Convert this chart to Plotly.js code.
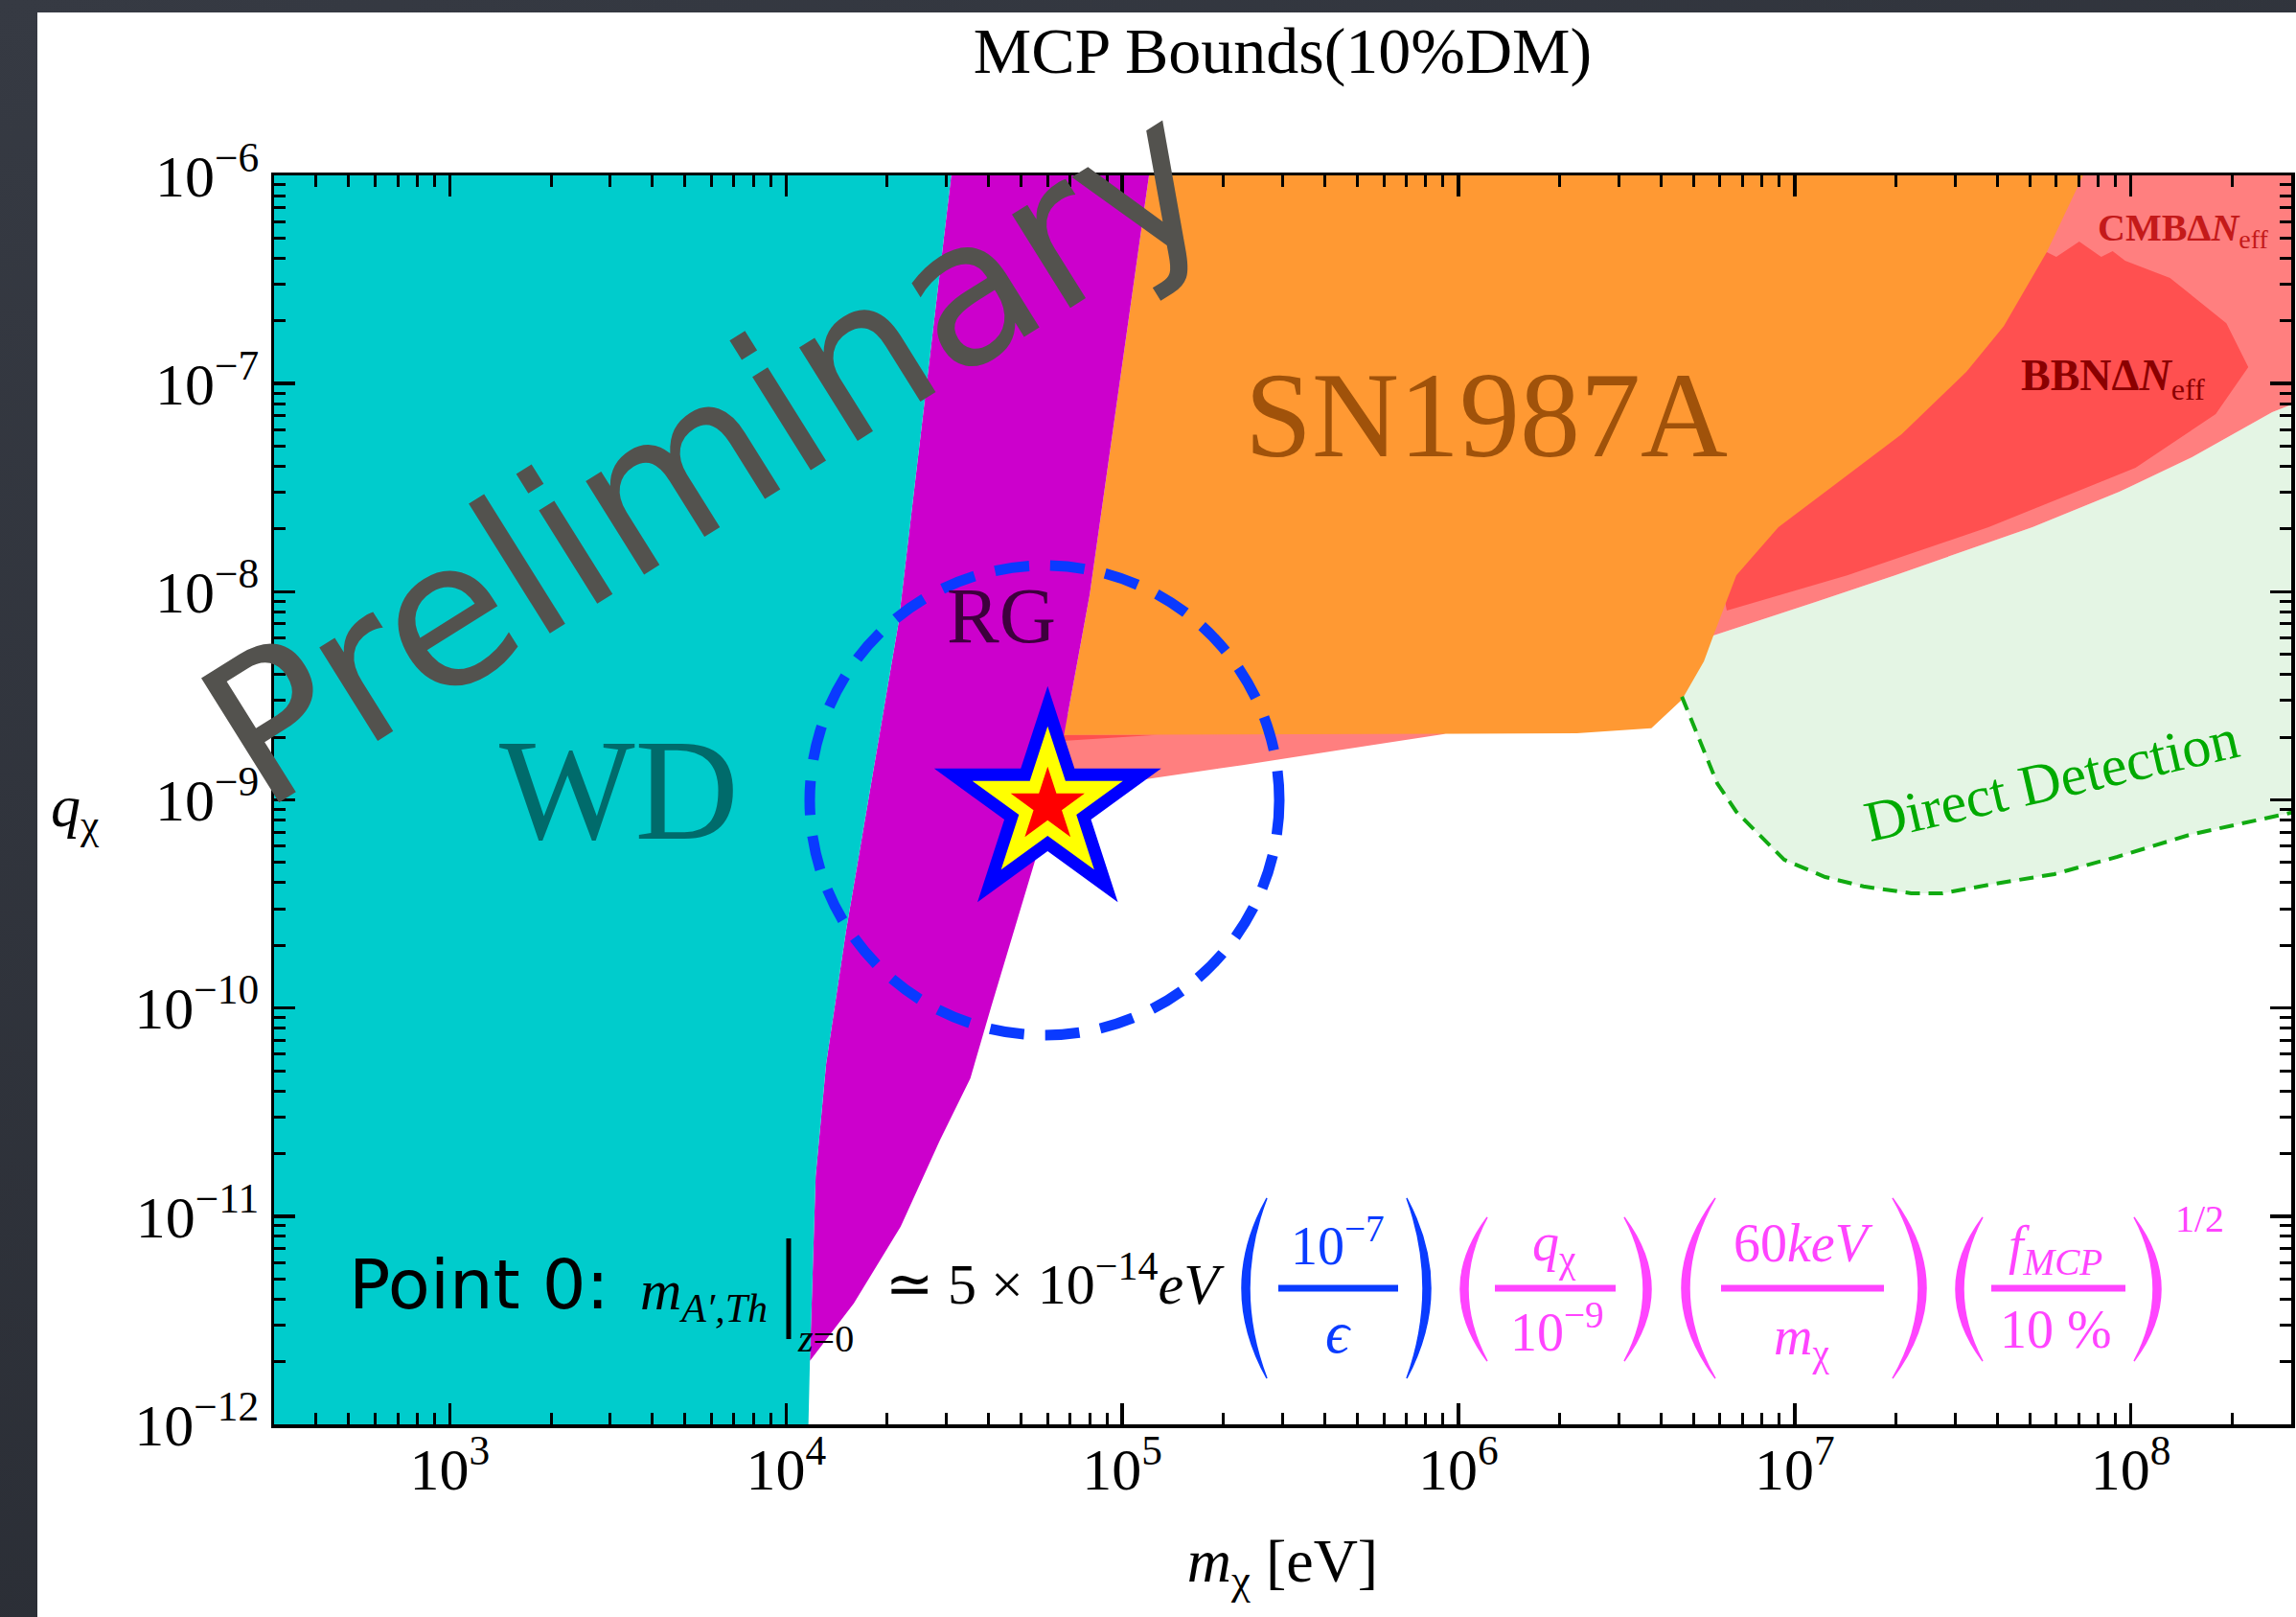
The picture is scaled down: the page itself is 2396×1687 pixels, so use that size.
<!DOCTYPE html>
<html><head><meta charset="utf-8">
<script src="https://cdn.plot.ly/plotly-3.0.1.min.js"></script>
<style>
html,body{margin:0;padding:0;width:2396px;height:1687px;overflow:hidden;background:#2e3139;}
#frame{position:absolute;left:0;top:0;width:2396px;height:1687px;background:linear-gradient(160deg,#363a43,#262930);}
#chart{position:absolute;left:39px;top:13px;width:2357px;height:1674px;background:#fff;}
</style></head><body><div id="frame"></div><div id="chart"></div>
<script>
// ---------- data (mass in eV, charge q_chi) ----------
const wdMass   = [250, 3.10e4, 2.16e4, 1.51e4, 1.316e4, 1.225e4, 1.178e4, 1.162e4, 250];
const wdCharge = [1.2e-6, 1e-6, 7.08e-9, 2.38e-10, 5.40e-11, 1.56e-11, 2.08e-12, 0.8e-12, 0.8e-12];

const rgMass   = [1.178e4, 1.591e4, 2.192e4, 2.867e4, 3.534e4, 4.081e4, 5.513e4, 6.709e4, 8.005e4, 1.201e5, 3.10e4, 2.16e4, 1.51e4, 1.316e4, 1.225e4, 1.178e4];
const rgCharge = [2.02e-12, 3.81e-12, 8.90e-12, 2.31e-11, 4.60e-11, 1.02e-10, 5.16e-10, 2.05e-9, 9.73e-9, 1e-6, 1e-6, 7.08e-9, 2.38e-10, 5.40e-11, 1.56e-11, 2.08e-12];

const snMass   = [1.201e5, 8.005e4, 6.709e4, 4.385e5, 2.251e6, 3.749e6, 4.621e6, 5.373e6, 5.735e6, 6.709e6, 8.950e6, 2.081e7, 3.246e7, 4.190e7, 5.623e7, 7.211e7];
const snCharge = [1e-6, 9.73e-9, 2.05e-9, 2.07e-9, 2.09e-9, 2.21e-9, 3.03e-9, 4.63e-9, 6.17e-9, 1.20e-8, 2.04e-8, 5.71e-8, 1.14e-7, 1.89e-7, 4.28e-7, 1e-6];

const cmbMass   = [5.41e4, 5.41e4, 1.186e5, 2.28e5, 4.385e5, 9.007e5, 5.735e6, 1.155e7, 1.988e7, 5.098e7, 9.245e7, 1.520e8, 2.634e8, 3.3e8, 3.3e8, 7.211e7, 3.121e6];
const cmbCharge = [2.05e-9, 1.23e-9, 1.26e-9, 1.47e-9, 1.73e-9, 2.07e-9, 6.17e-9, 8.93e-9, 1.20e-8, 2.04e-8, 3.02e-8, 4.43e-8, 7.29e-8, 8.4e-8, 1.2e-6, 1.2e-6, 1.0e-7];

const bbnMass   = [5.623e7, 6.003e7, 7.025e7, 8.165e7, 8.831e7, 9.616e7, 1.308e8, 1.924e8, 2.236e8, 1.789e8, 1.033e8, 3.773e7, 1.433e7, 6.285e6, 5.267e6, 4.272e7];
const bbnCharge = [4.28e-7, 4.06e-7, 4.81e-7, 4.06e-7, 4.33e-7, 3.89e-7, 3.22e-7, 1.95e-7, 1.20e-7, 7.14e-8, 3.94e-8, 2.04e-8, 1.20e-8, 8.12e-9, 3.47e-8, 2.89e-7];
const bbnSliverMass   = [5.41e4, 1.266e5, 5.41e4];
const bbnSliverCharge = [2.05e-9, 2.05e-9, 1.88e-9];

const ddBoundMass   = [4.621e6, 5.888e6, 6.709e6, 9.307e6, 1.233e7, 1.602e7, 2.222e7, 2.756e7, 3.823e7, 5.925e7, 9.125e7, 1.5e8, 3.3e8];
const ddBoundCharge = [3.13e-9, 1.20e-9, 8.77e-10, 5.16e-10, 4.26e-10, 3.84e-10, 3.56e-10, 3.56e-10, 3.92e-10, 4.40e-10, 5.33e-10, 6.80e-10, 8.97e-10];
const ddTopMass   = [3.3e8, 2.634e8, 1.520e8, 9.245e7, 5.098e7, 1.988e7, 1.155e7, 5.735e6, 4.055e6];
const ddTopCharge = [8.4e-8, 7.29e-8, 4.43e-8, 3.02e-8, 2.04e-8, 1.20e-8, 8.93e-9, 6.17e-9, 4.17e-9];

const benchMass = [6e4];
const benchCharge = [9.4e-10];

const xTickVals = [1e3, 1e4, 1e5, 1e6, 1e7, 1e8];
const xTickText = ['10<sup>3</sup>','10<sup>4</sup>','10<sup>5</sup>','10<sup>6</sup>','10<sup>7</sup>','10<sup>8</sup>'];
const yTickVals = [1e-12, 1e-11, 1e-10, 1e-9, 1e-8, 1e-7, 1e-6];
const yTickText = ['10<sup>−12</sup>','10<sup>−11</sup>','10<sup>−10</sup>','10<sup>−9</sup>','10<sup>−8</sup>','10<sup>−7</sup>','10<sup>−6</sup>'];

// ---------- layout helpers (pixel -> paper) ----------
const L = 286, R = 2391, T = 183, B = 1486;
const px = v => (v - L) / (R - L);
const py = v => (B - v) / (B - T);

function minorVals(e0, e1) {
  const out = [];
  for (let e = e0; e <= e1; e++) for (let k = 2; k <= 9; k++) out.push(k * Math.pow(10, e));
  return out;
}

const BLUE = '#0a3cff', PINK = '#ff44ff';

function region(x, y, color) {
  return {x, y, type: 'scatter', mode: 'lines', fill: 'toself', fillcolor: color,
          line: {width: 0, color: color}, hoverinfo: 'skip', showlegend: false};
}

const traces = [
  region(ddBoundMass.concat(ddTopMass), ddBoundCharge.concat(ddTopCharge), '#e4f5e4'),
  region(cmbMass, cmbCharge, '#ff7f7f'),
  region(bbnMass, bbnCharge, '#ff5050'),
  region(bbnSliverMass, bbnSliverCharge, '#ff5050'),
  region(snMass, snCharge, '#ff9933'),
  region(rgMass, rgCharge, '#cc00cc'),
  region(wdMass, wdCharge, '#00cccc'),
  {x: ddBoundMass, y: ddBoundCharge, type: 'scatter', mode: 'lines',
   line: {color: '#11aa11', width: 4, dash: '15px,9px'}, hoverinfo: 'skip', showlegend: false},
  {x: benchMass, y: benchCharge, type: 'scatter', mode: 'markers', hoverinfo: 'skip', showlegend: false,
   marker: {symbol: 'star', size: 178, color: '#0000ff', line: {width: 0}}},
  {x: benchMass, y: benchCharge, type: 'scatter', mode: 'markers', hoverinfo: 'skip', showlegend: false,
   marker: {symbol: 'star', size: 118, color: '#ffff00', line: {width: 0}}},
  {x: benchMass, y: benchCharge, type: 'scatter', mode: 'markers', hoverinfo: 'skip', showlegend: false,
   marker: {symbol: 'star', size: 58, color: '#ff0000', line: {width: 0}}}
];

function ann(text, x, y, size, color, opts) {
  const a = {text, x: px(x), y: py(y), xref: 'paper', yref: 'paper', showarrow: false,
             xanchor: 'center', yanchor: 'middle',
             font: {family: 'Liberation Serif', size, color}};
  return Object.assign(a, opts || {});
}

const annotations = [
  ann('WD', 646, 824, 150, '#006b6b'),
  ann('SN1987A', 1551, 433, 126, '#a0520a'),
  ann('RG', 1045, 642, 82, '#3d003d'),
  ann('<b>CMBΔ<i>N</i></b><sub>eff</sub>', 2278, 240, 40, '#c41a1a'),
  ann('<b>BBNΔ<i>N</i></b><sub>eff</sub>', 2205, 395, 46, '#8b0000'),
  ann('Direct Detection', 2141, 814, 60, '#00aa00', {textangle: -13}),
  ann('<i>q</i><sub>χ</sub>', 78, 845, 62, '#000'),
  ann('Preliminary', 738, 472, 210, '#53524e', {textangle: -32, font: {family: 'DejaVu Sans', size: 210, color: '#53524e'}}),
  ann('Point 0:', 362, 1340, 72, '#000', {xanchor: 'left', font: {family: 'DejaVu Sans', size: 72, color: '#000'}}),
  ann('<i>m</i><sub><i>A′,Th</i></sub>', 666, 1350, 60, '#000', {xanchor: 'left'}),
  ann('<i>z</i>=0', 830, 1396, 40, '#000', {xanchor: 'left'}),
  ann('≃ 5 × 10<sup>−14</sup><i>eV</i>', 922, 1335, 60, '#000', {xanchor: 'left'}),
  ann('10<sup>−7</sup>', 1396, 1295, 56, BLUE),
  ann('<i>ϵ</i>', 1396, 1390, 62, BLUE),
  ann('<i>q</i><sub>χ</sub>', 1622, 1300, 56, PINK),
  ann('10<sup>−9</sup>', 1625, 1385, 56, PINK),
  ann('60<i>keV</i>', 1882, 1297, 56, PINK),
  ann('<i>m</i><sub>χ</sub>', 1880, 1398, 56, PINK),
  ann('<i>f</i><sub><i>MCP</i></sub>', 2145, 1303, 56, PINK),
  ann('10 %', 2145, 1387, 56, PINK),
  ann('1/2', 2295, 1271, 40, PINK)
];

function paren(xEnd, xMid, yTop, yBot, color, left) {
  const ym = (yTop + yBot) / 2;
  const th = left ? 8 : -8;
  const cOut = 2 * xMid - xEnd, cIn = 2 * (xMid + th) - xEnd;
  const path = 'M' + px(xEnd) + ',' + py(yTop) + ' Q' + px(cOut) + ',' + py(ym) + ' ' + px(xEnd) + ',' + py(yBot) +
               ' Q' + px(cIn) + ',' + py(ym) + ' ' + px(xEnd) + ',' + py(yTop) + ' Z';
  return {type: 'path', xref: 'paper', yref: 'paper', path, fillcolor: color, line: {color: color, width: 1.5}};
}
function hline(x0, x1, y, color, w) {
  return {type: 'line', xref: 'paper', yref: 'paper', x0: px(x0), x1: px(x1), y0: py(y), y1: py(y), line: {color, width: w}};
}

const shapes = [
  {type: 'circle', xref: 'paper', yref: 'paper', x0: px(845), x1: px(1335), y0: py(1080), y1: py(590),
   line: {color: '#0a3aff', width: 11, dash: '36px,22px'}},
  {type: 'line', xref: 'paper', yref: 'paper', x0: px(823), x1: px(823), y0: py(1292), y1: py(1397), line: {color: '#000', width: 5}},
  hline(1334, 1459, 1344, BLUE, 7),
  hline(1560, 1686, 1344, PINK, 7),
  hline(1796, 1966, 1344, PINK, 7),
  hline(2078, 2218, 1344, PINK, 7),
  paren(1322, 1296, 1250, 1438, BLUE, true),
  paren(1468, 1493, 1250, 1438, BLUE, false),
  paren(1552, 1524, 1270, 1420, PINK, true),
  paren(1695, 1723, 1270, 1420, PINK, false),
  paren(1790, 1755, 1250, 1438, PINK, true),
  paren(1975, 2010, 1250, 1438, PINK, false),
  paren(2069, 2041, 1270, 1420, PINK, true),
  paren(2227, 2255, 1270, 1420, PINK, false)
];

const axisCommon = {
  type: 'log', showgrid: false, zeroline: false, showline: true, linecolor: '#000', linewidth: 3.5,
  mirror: 'allticks', ticks: 'inside', ticklen: 22, tickwidth: 3.5, tickcolor: '#000',
  tickfont: {family: 'Liberation Serif', size: 62, color: '#000'}, ticklabelstandoff: 0
};

const layout = {
  width: 2357, height: 1674,
  margin: {l: 247, r: 5, t: 170, b: 201},
  paper_bgcolor: '#ffffff', plot_bgcolor: '#ffffff',
  showlegend: false,
  title: {text: 'MCP Bounds(10%DM)', font: {family: 'Liberation Serif', size: 68, color: '#000'},
          x: 0.5, xref: 'paper', xanchor: 'center', y: 1 - 39 / 1674, yref: 'container', yanchor: 'middle'},
  xaxis: Object.assign({}, axisCommon, {
    range: [Math.log10(300), Math.log10(3e8)], tickvals: xTickVals, ticktext: xTickText,
    ticklabelstandoff: -10,
    minor: {tickvals: minorVals(2, 8), ticks: 'inside', ticklen: 12, tickwidth: 3, tickcolor: '#000', showgrid: false},
    title: {text: '<i>m</i><sub>χ</sub> [eV]', font: {family: 'Liberation Serif', size: 64, color: '#000'}, standoff: 40}
  }),
  yaxis: Object.assign({}, axisCommon, {
    range: [-12, -6], tickvals: yTickVals, ticktext: yTickText,
    minor: {tickvals: minorVals(-12, -7), ticks: 'inside', ticklen: 12, tickwidth: 3, tickcolor: '#000', showgrid: false}
  }),
  annotations, shapes
};

Plotly.newPlot('chart', traces, layout, {displayModeBar: false, staticPlot: true});
</script></body></html>
